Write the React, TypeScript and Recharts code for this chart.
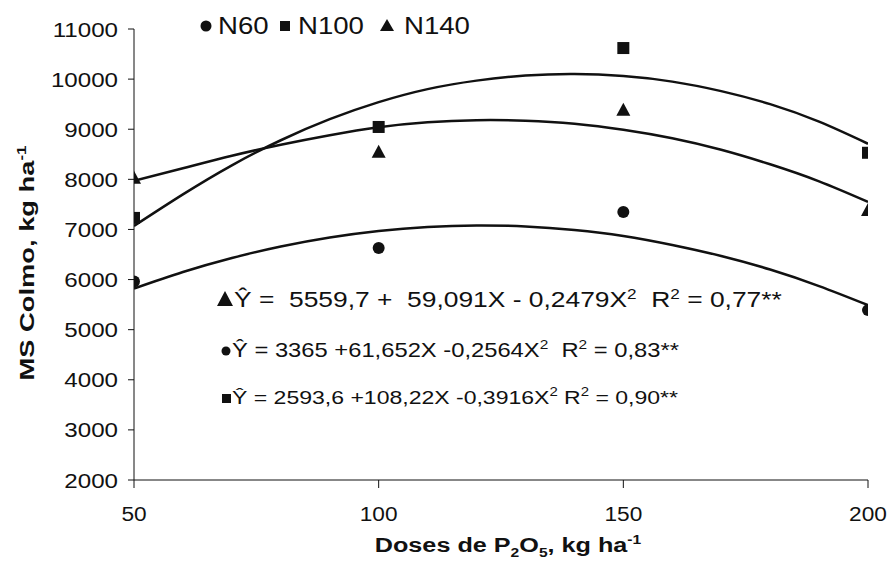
import { ComposedChart, Line, Scatter, XAxis, YAxis, Customized } from 'recharts';

// observed means per P2O5 dose
const doses = [50, 100, 150, 200];
const n60 = [5960, 6630, 7350, 5390];
const n100 = [7230, 9045, 10620, 8530];
const n140 = [8030, 8550, 9390, 7390];

// fitted curves
const curveX = [50, 60, 70, 80, 90, 100, 110, 120, 130, 140, 150, 160, 170, 180, 190, 200];
const fitN60 = [5820, 6150, 6430, 6660, 6840, 6970, 7050, 7080, 7060, 6990, 6870, 6690, 6470, 6200, 5870, 5490];
const fitN100 = [7070, 7700, 8280, 8780, 9200, 9540, 9800, 9970, 10070, 10100, 10060, 9950, 9760, 9500, 9150, 8710];
const fitN140 = [7970, 8220, 8470, 8690, 8880, 9040, 9140, 9180, 9170, 9110, 8990, 8820, 8590, 8300, 7960, 7550];

const xTicks = [50, 100, 150, 200];
const yTicks = [2000, 3000, 4000, 5000, 6000, 7000, 8000, 9000, 10000, 11000];

// regression text: [normal, superscript] pieces
const eqN140 = ['Ŷ =  5559,7 +  59,091X - 0,2479X', '2', '  R', '2', ' = 0,77**'];
const eqN60 = ['Ŷ = 3365 +61,652X -0,2564X', '2', '  R', '2', ' = 0,83**'];
const eqN100 = ['Ŷ = 2593,6 +108,22X -0,3916X', '2', ' R', '2', ' = 0,90**'];

const pts = (ys: number[]) => doses.map((x, i) => ({ x, y: ys[i] }));
const curve = (ys: number[]) => curveX.map((x, i) => ({ x, y: ys[i] }));

const FONT = '"Liberation Sans", Arial, sans-serif';
const INK = '#111';
const SX = 1.15;

const Dot = (p: any) => <circle cx={p.cx} cy={p.cy} r={6} fill={INK} />;
const Sq = (p: any) => <rect x={p.cx - 6} y={p.cy - 6} width={12} height={12} fill={INK} />;
const Tri = (p: any) => (
  <polygon points={`${p.cx},${p.cy - 7} ${p.cx - 7},${p.cy + 6} ${p.cx + 7},${p.cy + 6}`} fill={INK} />
);

const YTick = (p: any) => (
  <g transform={`translate(${p.x},${p.y}) scale(${SX},1)`}>
    <text x={0} y={0} dy="0.36em" textAnchor="end" fontSize={21} fill={INK} fontFamily={FONT}>
      {p.payload.value}
    </text>
  </g>
);

const XTick = (p: any) => (
  <g transform={`translate(${p.x},${p.y}) scale(1.08,1)`}>
    <text x={0} y={0} dy="0.71em" textAnchor="middle" fontSize={21} fill={INK} fontFamily={FONT}>
      {p.payload.value}
    </text>
  </g>
);

const Eq = ({ x, y, parts, size }: { x: number; y: number; parts: string[]; size: number }) => (
  <g transform={`translate(${x},${y}) scale(1.2,1)`}>
    <text x={0} y={0} fontSize={size} style={{ whiteSpace: 'pre' }}>
      <tspan>{parts[0]}</tspan>
      <tspan dy={-8} fontSize={size * 0.65}>{parts[1]}</tspan>
      <tspan dy={8}>{parts[2]}</tspan>
      <tspan dy={-8} fontSize={size * 0.65}>{parts[3]}</tspan>
      <tspan dy={8}>{parts[4]}</tspan>
    </text>
  </g>
);

const Extras = () => (
  <g fontFamily={FONT} fill={INK}>
    {/* legend */}
    <circle cx={206} cy={26} r={5.5} />
    <g transform="translate(218,34) scale(1.2,1)">
      <text fontSize={23}>N60</text>
    </g>
    <rect x={280} y={21} width={10} height={10} />
    <g transform="translate(298,34) scale(1.2,1)">
      <text fontSize={23}>N100</text>
    </g>
    <polygon points="387,19 380,31 394,31" />
    <g transform="translate(404,34) scale(1.2,1)">
      <text fontSize={23}>N140</text>
    </g>

    {/* equations */}
    <polygon points="225,291 217,306 233,306" />
    <Eq x={234} y={307} parts={eqN140} size={22} />
    <circle cx={226} cy={351} r={4.5} />
    <Eq x={232} y={357} parts={eqN60} size={19.8} />
    <rect x={222} y={394} width={9} height={9} />
    <Eq x={232} y={404} parts={eqN100} size={19.2} />

    {/* axis titles */}
    <g transform="translate(34,263) rotate(-90) scale(1.3,1)">
      <text x={0} y={0} textAnchor="middle" fontSize={21} fontWeight="bold">
        <tspan>MS Colmo, kg ha</tspan>
        <tspan dy={-8} fontSize={13}>-1</tspan>
      </text>
    </g>
    <g transform="translate(508,552) scale(1.2,1)">
      <text x={0} y={0} textAnchor="middle" fontSize={21} fontWeight="bold">
        <tspan>Doses de P</tspan>
        <tspan dy={5} fontSize={13}>2</tspan>
        <tspan dy={-5}>O</tspan>
        <tspan dy={5} fontSize={13}>5</tspan>
        <tspan dy={-5}>, kg ha</tspan>
        <tspan dy={-8} fontSize={13}>-1</tspan>
      </text>
    </g>
  </g>
);

export default function App() {
  return (
    <div style={{ position: 'absolute', left: 0, top: 0, background: '#fff' }}>
      <ComposedChart width={891} height={565} margin={{ top: 29, right: 23, bottom: 0, left: 0 }}>
        <XAxis
          dataKey="x"
          type="number"
          domain={[50, 200]}
          ticks={xTicks}
          allowDataOverflow
          height={85}
          stroke={INK}
          tickSize={8}
          tickMargin={18}
          tick={XTick}
        />
        <YAxis
          dataKey="y"
          type="number"
          domain={[2000, 11000]}
          ticks={yTicks}
          allowDataOverflow
          width={134}
          stroke={INK}
          tickSize={6}
          tickMargin={10}
          tick={YTick}
        />
        <Line data={curve(fitN100)} dataKey="y" type="natural" stroke={INK} strokeWidth={2.5} dot={false} isAnimationActive={false} />
        <Line data={curve(fitN140)} dataKey="y" type="natural" stroke={INK} strokeWidth={2.5} dot={false} isAnimationActive={false} />
        <Line data={curve(fitN60)} dataKey="y" type="natural" stroke={INK} strokeWidth={2.5} dot={false} isAnimationActive={false} />
        <Scatter data={pts(n60)} dataKey="y" shape={Dot} isAnimationActive={false} />
        <Scatter data={pts(n100)} dataKey="y" shape={Sq} isAnimationActive={false} />
        <Scatter data={pts(n140)} dataKey="y" shape={Tri} isAnimationActive={false} />
        <Customized component={Extras} />
      </ComposedChart>
    </div>
  );
}
